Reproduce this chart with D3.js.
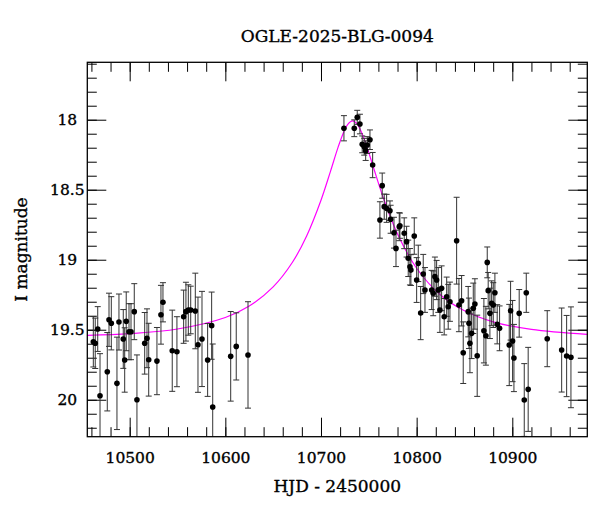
<!DOCTYPE html>
<html>
<head>
<meta charset="utf-8">
<script src="https://cdn.jsdelivr.net/npm/d3@7"></script>
<style>
  body { margin: 0; background: #fff; }
  svg text { font-family: "DejaVu Serif", serif; fill: #000; stroke: #000; stroke-width: 0.35px; }
</style>
</head>
<body>
<svg id="chart" width="600" height="512"></svg>
<script>
// OGLE photometry
var hjd = [
  10462.0, 10464.0, 10466.6, 10469.0, 10476.6, 10478.4, 10480.8, 10486.7, 10488.8, 10493.3,
  10494.8, 10496.4, 10499.3, 10501.4, 10504.8, 10507.6, 10515.7, 10518.1, 10519.9, 10528.5,
  10532.7, 10534.8, 10544.5, 10549.4, 10556.4, 10558.8, 10561.3, 10563.8, 10568.6, 10571.4,
  10575.6, 10581.5, 10585.7, 10586.8, 10605.6, 10611.4, 10623.7,
  10724.0, 10734.8, 10737.9, 10740.7, 10743.1, 10745.2, 10746.7, 10748.4, 10751.2, 10754.0,
  10761.6, 10764.0, 10766.1, 10768.6, 10772.1, 10772.8, 10776.3, 10778.4, 10781.8, 10782.5,
  10787.0, 10789.5, 10791.2, 10793.0, 10794.0, 10797.5, 10800.0, 10801.7, 10804.2, 10806.9,
  10808.7, 10815.7, 10817.3, 10819.1, 10820.9, 10822.6, 10824.3, 10826.1, 10828.8, 10831.4,
  10833.0, 10834.8, 10841.8, 10844.2, 10847.0, 10848.7, 10853.9, 10854.7, 10855.7, 10857.5,
  10859.2, 10860.9, 10863.3, 10870.3, 10872.4, 10873.8, 10874.8, 10876.6, 10878.4, 10880.1,
  10881.8, 10884.2, 10886.7, 10896.8, 10898.2, 10900.3, 10901.7, 10907.2, 10912.5, 10914.6,
  10916.6, 10936.5, 10951.6, 10956.8, 10961.3
];
var mag = [
  19.586, 19.597, 19.495, 19.971, 19.800, 19.429, 19.454, 19.883, 19.445, 19.566,
  19.716, 19.440, 19.514, 19.514, 19.371, 20.000, 19.597, 19.561, 19.714, 19.724,
  19.393, 19.304, 19.650, 19.657, 19.407, 19.371, 19.359, 19.359, 19.366, 19.607,
  19.566, 19.716, 19.471, 20.052, 19.690, 19.619, 19.680,
  18.061, 18.061, 17.983, 18.031, 18.176, 18.193, 18.221, 18.181, 18.143, 18.324,
  18.716, 18.471, 18.621, 18.633, 18.650, 18.711, 18.807, 18.919, 18.764, 18.757,
  18.811, 18.871, 18.990, 19.050, 19.074, 18.831, 19.145, 19.026, 19.381, 19.102,
  19.216, 19.216, 19.240, 19.121, 19.145, 19.216, 19.359, 19.204, 19.407, 19.264,
  19.336, 19.300, 18.864, 19.324, 19.293, 19.664, 19.371, 19.454, 19.597, 19.526,
  19.347, 19.316, 19.686, 19.507, 19.543, 19.019, 19.221, 19.383, 19.311, 19.324,
  19.236, 19.461, 19.490, 19.609, 19.364, 19.581, 19.702, 19.383, 20.002, 19.236,
  19.926, 19.564, 19.645, 19.688, 19.697
];
var magErr = [
  0.18, 0.18, 0.16, 0.30, 0.28, 0.19, 0.19, 0.33, 0.20, 0.21,
  0.23, 0.21, 0.20, 0.20, 0.20, 0.32, 0.22, 0.21, 0.26, 0.24,
  0.21, 0.14, 0.29, 0.25, 0.19, 0.21, 0.18, 0.17, 0.27, 0.34,
  0.34, 0.26, 0.24, 0.45, 0.32, 0.24, 0.38,
  0.09, 0.06, 0.05, 0.07, 0.06, 0.06, 0.07, 0.06, 0.07, 0.09,
  0.13, 0.09, 0.09, 0.10, 0.07, 0.10, 0.11, 0.13, 0.10, 0.09,
  0.11, 0.11, 0.13, 0.13, 0.11, 0.13, 0.16, 0.13, 0.19, 0.14,
  0.16, 0.14, 0.16, 0.14, 0.14, 0.16, 0.16, 0.16, 0.13, 0.14,
  0.16, 0.14, 0.31, 0.19, 0.18, 0.22, 0.18, 0.18, 0.21, 0.18,
  0.18, 0.18, 0.29, 0.23, 0.21, 0.11, 0.13, 0.18, 0.16, 0.16,
  0.14, 0.14, 0.16, 0.29, 0.21, 0.29, 0.24, 0.17, 0.26, 0.14,
  0.30, 0.20, 0.30, 0.29, 0.36
];

// model curve, sampled off the magenta line
var modelHjd = [10456, 10500, 10550, 10600, 10625, 10650, 10670, 10685, 10700, 10710,
                10718, 10724, 10728, 10733, 10738, 10745, 10755, 10765, 10780, 10800,
                10825, 10850, 10880, 10920, 10978];
var modelMag = [19.540, 19.528, 19.495, 19.413, 19.331, 19.194, 19.020, 18.830, 18.575, 18.367,
                18.194, 18.084, 18.033, 18.009, 18.033, 18.135, 18.345, 18.555, 18.816, 19.061,
                19.252, 19.365, 19.444, 19.498, 19.533];

var xMajorTicks = [10500, 10600, 10700, 10800, 10900];
var xMinorTicks = d3.range(10460, 10980, 20);
var yMajorTicks = [18, 18.5, 19, 19.5, 20];
var yMinorTicks = d3.range(17.6, 20.25, 0.1);

var titleText = "OGLE-2025-BLG-0094";
var xLabel = "HJD - 2450000";
var yLabel = "I magnitude";

var svg = d3.select("#chart");
// plot frame (can't use "top" as a global name in a browser)
var frame = {left: 87.3, right: 587.3, top: 62.3, bottom: 436.7};

var x = d3.scaleLinear()
    .domain([10455.7, 10978.4])
    .range([frame.left, frame.right]);
var y = d3.scaleLinear()
    .domain([17.59, 20.264])
    .range([frame.top, frame.bottom]);

svg.append("defs").append("clipPath")
    .attr("id", "plotClip")
  .append("rect")
    .attr("x", frame.left)
    .attr("y", frame.top)
    .attr("width", frame.right - frame.left)
    .attr("height", frame.bottom - frame.top);

// ticks point inward on all four sides
function addAxis(axis, tx, ty) {
  var g = svg.append("g")
      .attr("transform", "translate(" + tx + "," + ty + ")")
      .call(axis);
  g.select(".domain").remove();
  g.selectAll("line").attr("stroke", "#000").attr("stroke-width", 1);
  return g;
}

addAxis(d3.axisBottom(x).tickValues(xMinorTicks).tickSize(-9.5).tickFormat(""), 0, frame.bottom);
addAxis(d3.axisTop(x).tickValues(xMinorTicks).tickSize(-9.5).tickFormat(""), 0, frame.top);
addAxis(d3.axisTop(x).tickValues(xMajorTicks).tickSize(-19).tickFormat(""), 0, frame.top);
var xAxisG = addAxis(d3.axisBottom(x).tickValues(xMajorTicks).tickSize(-19)
    .tickPadding(15).tickFormat(d3.format("d")), 0, frame.bottom);
xAxisG.selectAll("text").style("font-size", "15.5px");

addAxis(d3.axisLeft(y).tickValues(yMinorTicks).tickSize(-9.5).tickFormat(""), frame.left, 0);
addAxis(d3.axisRight(y).tickValues(yMinorTicks).tickSize(-9.5).tickFormat(""), frame.right, 0);
addAxis(d3.axisRight(y).tickValues(yMajorTicks).tickSize(-19).tickFormat(""), frame.right, 0);
var yAxisG = addAxis(d3.axisLeft(y).tickValues(yMajorTicks).tickSize(-19)
    .tickFormat(function(d) { return String(d); }), frame.left, 0);
yAxisG.selectAll("text")
    .attr("x", -20)
    .attr("text-anchor", "middle")
    .style("font-size", "15.5px");

var plot = svg.append("g").attr("clip-path", "url(#plotClip)");

// model light curve
var modelLine = d3.line()
    .x(function(d, i) { return x(modelHjd[i]); })
    .y(function(d) { return y(d); })
    .curve(d3.curveCatmullRom);

plot.append("path")
    .datum(modelMag)
    .attr("d", modelLine)
    .attr("fill", "none")
    .attr("stroke", "#ff00ff")
    .attr("stroke-width", 1.2);

// error bars with caps
var bars = plot.selectAll("g.errbar")
    .data(hjd)
  .enter().append("g")
    .attr("class", "errbar")
    .attr("stroke", "#333")
    .attr("stroke-width", 1);

bars.append("line")
    .attr("x1", function(d) { return x(d); })
    .attr("x2", function(d) { return x(d); })
    .attr("y1", function(d, i) { return y(mag[i] - magErr[i]); })
    .attr("y2", function(d, i) { return y(mag[i] + magErr[i]); });
bars.append("line")
    .attr("x1", function(d) { return x(d) - 3; })
    .attr("x2", function(d) { return x(d) + 3; })
    .attr("y1", function(d, i) { return y(mag[i] - magErr[i]); })
    .attr("y2", function(d, i) { return y(mag[i] - magErr[i]); });
bars.append("line")
    .attr("x1", function(d) { return x(d) - 3; })
    .attr("x2", function(d) { return x(d) + 3; })
    .attr("y1", function(d, i) { return y(mag[i] + magErr[i]); })
    .attr("y2", function(d, i) { return y(mag[i] + magErr[i]); });

plot.selectAll("circle.obs")
    .data(hjd)
  .enter().append("circle")
    .attr("class", "obs")
    .attr("cx", function(d) { return x(d); })
    .attr("cy", function(d, i) { return y(mag[i]); })
    .attr("r", 2.8)
    .attr("fill", "#000");

svg.append("rect")
    .attr("x", frame.left)
    .attr("y", frame.top)
    .attr("width", frame.right - frame.left)
    .attr("height", frame.bottom - frame.top)
    .attr("fill", "none")
    .attr("stroke", "#000")
    .attr("stroke-width", 1.3);

svg.append("text")
    .attr("x", (frame.left + frame.right) / 2)
    .attr("y", 42)
    .attr("text-anchor", "middle")
    .style("font-size", "17px")
    .text(titleText);

svg.append("text")
    .attr("x", (frame.left + frame.right) / 2)
    .attr("y", 491.5)
    .attr("text-anchor", "middle")
    .style("font-size", "17px")
    .text(xLabel);

svg.append("text")
    .attr("transform", "translate(27," + (frame.top + frame.bottom) / 2 + ") rotate(-90)")
    .attr("text-anchor", "middle")
    .style("font-size", "17px")
    .text(yLabel);
</script>
</body>
</html>
